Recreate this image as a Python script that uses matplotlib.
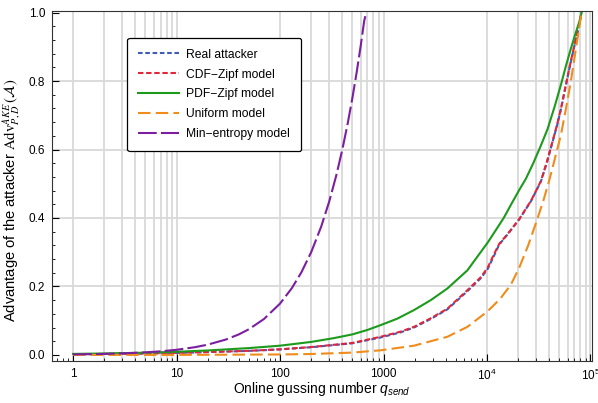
import matplotlib
matplotlib.use("Agg")
import matplotlib.pyplot as plt
from matplotlib.ticker import MultipleLocator, LogLocator, NullFormatter

plt.rcParams['font.family'] = ['Liberation Sans', 'DejaVu Sans']
plt.rcParams['mathtext.fontset'] = 'custom'
plt.rcParams['mathtext.rm'] = 'Liberation Sans'
plt.rcParams['mathtext.it'] = 'Liberation Sans:italic'

# values
q_real = [1, 2, 5, 10, 20, 50, 100, 200, 500, 937, 1466, 1970, 2860, 4140, 6460, 8710, 10200,
          11500, 13100, 15800, 20500, 26600, 33200, 38000, 43000, 47500, 51900, 57000, 62400,
          67000, 72400, 77000, 82000]
adv_real = [0.002, 0.0028, 0.0042, 0.0058, 0.0082, 0.0118, 0.016, 0.0225, 0.034, 0.051, 0.066,
            0.080, 0.105, 0.133, 0.186, 0.224, 0.252, 0.285, 0.322, 0.352, 0.396, 0.449, 0.507,
            0.563, 0.622, 0.670, 0.718, 0.778, 0.835, 0.878, 0.922, 0.958, 1.0]

q_cdf = [1, 2, 5, 10, 20, 50, 100, 200, 500, 937, 1466, 1970, 2860, 4140, 6460, 8710, 10200,
         11500, 13100, 15800, 20500, 26600, 33200, 38000, 43000, 47500, 51900, 57000, 62400,
         67000, 72400, 77000, 82000]
adv_cdf = [0.002, 0.0028, 0.0043, 0.006, 0.0085, 0.012, 0.0165, 0.023, 0.035, 0.053, 0.068,
           0.082, 0.107, 0.135, 0.189, 0.227, 0.256, 0.290, 0.324, 0.353, 0.397, 0.450, 0.508,
           0.565, 0.624, 0.672, 0.720, 0.780, 0.837, 0.880, 0.924, 0.960, 1.0]

q_pdf = [1, 2, 5, 10, 20, 50, 100, 200, 330, 500, 700, 937, 1360, 1970, 2860, 4140, 6460, 10200,
         12500, 14500, 17500, 20500, 23800, 28000, 33000, 38500, 45000, 51900, 58000, 64700,
         71000, 77800, 82000]
adv_pdf = [0.003, 0.0042, 0.0066, 0.0093, 0.013, 0.020, 0.027, 0.038, 0.049, 0.060, 0.073,
           0.087, 0.106, 0.131, 0.160, 0.194, 0.247, 0.329, 0.370, 0.400, 0.445, 0.482, 0.515,
           0.560, 0.610, 0.660, 0.725, 0.790, 0.845, 0.895, 0.935, 0.972, 1.0]

q_uni = [1, 10, 100, 200, 500, 937, 1970, 4140, 6460, 10200, 13500, 17000, 20500, 25000,
         29700, 35000, 39800, 45000, 51900, 58000, 64700, 74000, 82000]
adv_uni = [0.0, 0.0001, 0.0013, 0.0027, 0.0068, 0.0135, 0.027, 0.053, 0.082, 0.128, 0.165,
           0.205, 0.255, 0.320, 0.385, 0.450, 0.508, 0.570, 0.644, 0.720, 0.800, 0.914, 1.0]

q_min = [1, 2, 3, 5, 7, 10, 15, 20, 30, 40, 50, 70, 100, 130, 160, 200, 250, 300, 350, 400,
         450, 500, 550, 600, 650, 680]
adv_min = [0.0015, 0.003, 0.0045, 0.0075, 0.0105, 0.015, 0.0225, 0.030, 0.045, 0.060, 0.075,
           0.105, 0.150, 0.195, 0.240, 0.300, 0.375, 0.450, 0.525, 0.600, 0.675, 0.750, 0.825,
           0.900, 0.975, 1.0]

x_ticks = [1, 10, 100, 1000, 1e4, 1e5]
x_labels = ['1', '10', '100', '1000', r'$10^4$', r'$10^5$']
x_grid = [1, 2, 3, 4, 5, 6, 7, 8, 9, 10,
          100, 200, 300, 400, 500, 600, 700, 800, 900, 1000,
          1e4, 2e4, 3e4, 4e4, 5e4, 6e4, 7e4, 8e4, 9e4, 1e5]
y_grid = [0.2, 0.4, 0.6, 0.8]

fig = plt.figure(figsize=(5.98, 4.03), dpi=100)
ax = fig.add_axes([0.087, 0.104, 0.903, 0.869])

for xg in x_grid:
    ax.axvline(xg, color='#d9d9d9', lw=1.3, zorder=0)
for yg in y_grid:
    ax.axhline(yg, color='#d9d9d9', lw=1.3, zorder=0)

ax.plot(q_real, adv_real, color='#3e5cb8', lw=1.5, ls=(0, (2.2, 1.3)), label='Real attacker')
ax.plot(q_cdf, adv_cdf, color='#e0263a', lw=1.5, ls=(0, (2.6, 1.3)), label='CDF\u2212Zipf model')
ax.plot(q_pdf, adv_pdf, color='#1c9a1c', lw=1.5, label='PDF\u2212Zipf model')
ax.plot(q_uni, adv_uni, color='#f08c1a', lw=1.5, ls=(0, (6, 2.5)), label='Uniform model')
ax.plot(q_min, adv_min, color='#7b1fa0', lw=1.5, ls=(0, (9, 2)), label='Min\u2212entropy model')

ax.set_xscale('log')
ax.set_xlim(0.626, 1.035e5)
ax.set_ylim(-0.018, 1.005)
ax.set_xticks(x_ticks)
ax.set_xticklabels(x_labels)
ax.xaxis.set_minor_locator(LogLocator(base=10, subs=range(2, 10), numticks=20))
ax.xaxis.set_minor_formatter(NullFormatter())
ax.yaxis.set_major_locator(MultipleLocator(0.2))
ax.yaxis.set_minor_locator(MultipleLocator(0.04))
ax.tick_params(which='both', direction='in', top=False, right=False, labelsize=8.5, pad=5)
ax.tick_params(which='major', length=5)
ax.tick_params(which='minor', length=2.5)
for s in ax.spines.values():
    s.set_color('#333333')

ax.set_xlabel(r'Online gussing number $q_{send}$', fontsize=10, labelpad=-2.5)
ax.set_ylabel(r'Advantage of the attacker $\mathrm{Adv}_{P,D}^{AKE}\,(\mathcal{A})$',
              fontsize=10.6, math_fontfamily='stix')
ax.yaxis.set_label_coords(-0.054, 0.46)

leg = ax.legend(loc='upper left', bbox_to_anchor=(0.139, 0.923), borderaxespad=0,
                fontsize=8.7, handlelength=3.4, handletextpad=0.6, labelspacing=0.65,
                fancybox=True, framealpha=1, edgecolor='black', borderpad=0.9)
leg.get_frame().set_linewidth(0.9)

fig.savefig('out.png', dpi=100)
